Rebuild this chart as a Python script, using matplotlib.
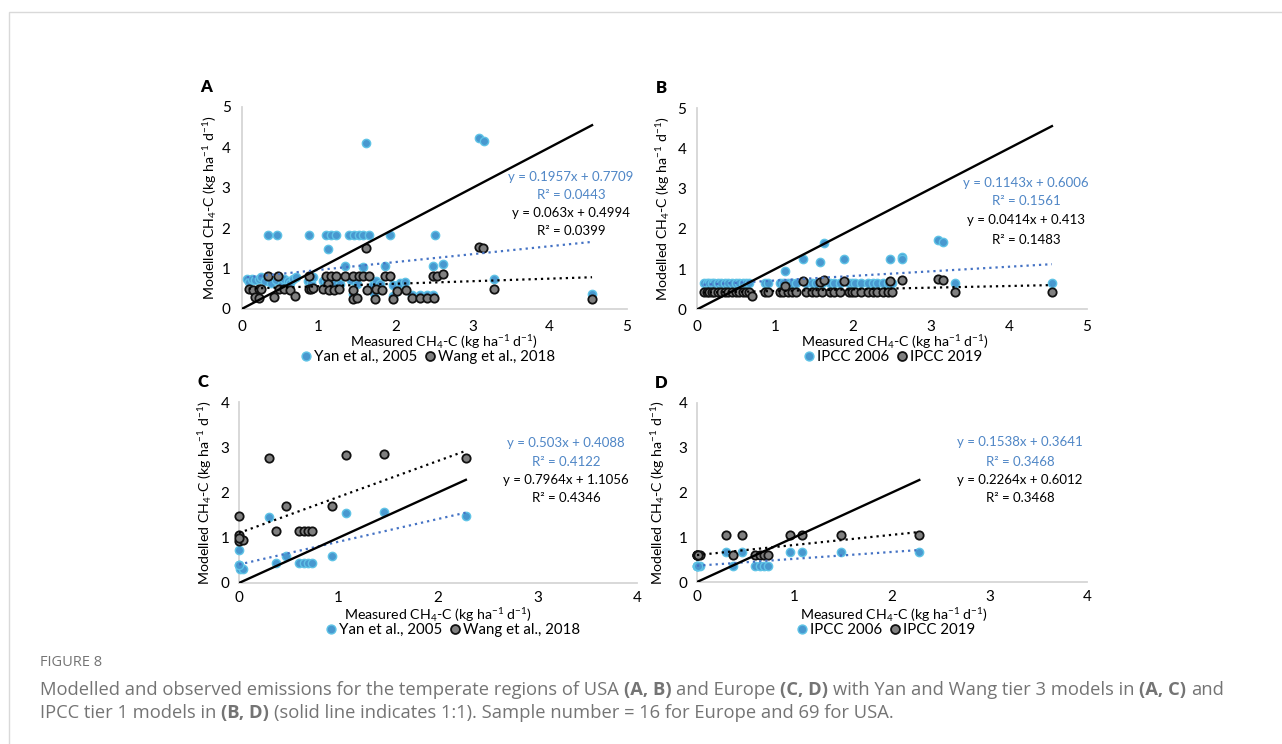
import matplotlib
matplotlib.use('Agg')
import matplotlib.pyplot as plt
from matplotlib.lines import Line2D
from matplotlib.patches import Rectangle
import numpy as np

plt.rcParams['font.family'] = ['Lato', 'DejaVu Sans']
plt.rcParams['mathtext.fontset'] = 'custom'
plt.rcParams['mathtext.rm'] = 'Lato'
plt.rcParams['mathtext.it'] = 'Lato:italic'
plt.rcParams['mathtext.bf'] = 'Lato:bold'

W, H = 1282, 744

# ---- data ----
# A: USA, Yan et al. 2005 (blue) and Wang et al. 2018 (grey)
a_yan_x = [1.62, 3.08, 3.15,
           0.34, 0.46, 0.88, 1.09, 1.16, 1.22, 1.39, 1.46, 1.52, 1.58, 1.65, 1.93, 2.51,
           1.12, 1.34, 1.58, 1.86, 2.48, 2.61, 3.28, 4.55,
           0.07, 0.10, 0.13, 0.17, 0.22, 0.25, 0.30, 0.38, 0.45, 0.52,
           0.55, 0.60, 0.63, 0.66, 0.70, 0.86, 0.90, 0.92, 1.05, 1.10,
           1.20, 1.28, 1.42, 1.50, 1.70, 1.75, 1.80, 1.97, 2.05, 2.12,
           2.21, 2.31, 2.40, 2.48, 1.45, 1.72, 1.97]
a_yan_y = [4.12, 4.24, 4.15,
           1.82, 1.82, 1.82, 1.82, 1.82, 1.82, 1.82, 1.82, 1.82, 1.82, 1.82, 1.82, 1.82,
           1.48, 1.07, 1.05, 1.07, 1.07, 1.11, 0.74, 0.36,
           0.75, 0.68, 0.75, 0.72, 0.75, 0.78, 0.70, 0.65, 0.72, 0.62,
           0.75, 0.70, 0.65, 0.75, 0.80, 0.70, 0.65, 0.78, 0.70, 0.70,
           0.62, 0.62, 0.72, 0.62, 0.60, 0.70, 0.62, 0.60, 0.65, 0.68,
           0.35, 0.35, 0.35, 0.35, 0.38, 0.40, 0.33]
a_wang_x = [1.62, 3.08, 3.14,
            0.34, 0.47, 0.88, 1.09, 1.16, 1.22, 1.34, 1.45, 1.52, 1.58,
            1.65, 1.86, 1.93, 2.48, 2.54, 2.61,
            1.12, 3.28, 4.55,
            0.09, 0.15, 0.22, 0.25, 0.48, 0.55, 0.63, 0.87, 0.90, 0.93,
            1.06, 1.13, 1.20, 1.26, 1.45, 1.63, 1.74, 1.82, 2.02, 2.13,
            0.17, 0.22, 0.42, 0.69, 1.45, 1.50, 1.73, 1.97, 2.21, 2.31, 2.40, 2.50]
a_wang_y = [1.50, 1.54, 1.50,
            0.82, 0.82, 0.82, 0.82, 0.82, 0.82, 0.82, 0.82, 0.82, 0.82,
            0.82, 0.82, 0.82, 0.82, 0.82, 0.86,
            0.63, 0.49, 0.25,
            0.50, 0.48, 0.50, 0.49, 0.49, 0.50, 0.48, 0.50, 0.49, 0.52,
            0.49, 0.48, 0.47, 0.49, 0.48, 0.47, 0.50, 0.47, 0.45, 0.47,
            0.30, 0.28, 0.30, 0.33, 0.25, 0.27, 0.25, 0.25, 0.27, 0.27, 0.27, 0.27]

# B: USA, IPCC 2006 (blue) and IPCC 2019 (grey)
b_06_x = [0.08, 0.12, 0.15, 0.19, 0.22, 0.26, 0.30, 0.36, 0.40, 0.45,
          0.50, 0.53, 0.58, 0.62, 0.66, 0.87, 0.91, 1.06, 1.10, 1.17,
          1.22, 1.26, 1.40, 1.47, 1.52, 1.60, 1.70, 1.75, 1.83, 1.95,
          1.98, 2.02, 2.10, 2.19, 2.25, 2.31, 2.38, 2.45, 2.50,
          1.13, 1.35, 1.57, 1.63, 1.88, 2.47, 2.63, 2.63, 3.09, 3.15, 3.31, 4.55]
b_06_y = [0.66, 0.66, 0.65, 0.66, 0.66, 0.66, 0.65, 0.66, 0.66, 0.66,
          0.66, 0.65, 0.66, 0.66, 0.66, 0.66, 0.66, 0.66, 0.65, 0.66,
          0.66, 0.66, 0.66, 0.66, 0.65, 0.66, 0.66, 0.66, 0.66, 0.65,
          0.66, 0.66, 0.66, 0.66, 0.66, 0.65, 0.66, 0.66, 0.66,
          0.96, 1.24, 1.17, 1.64, 1.24, 1.24, 1.31, 1.24, 1.71, 1.66, 0.65, 0.65]
b_19_x = [0.08, 0.12, 0.15, 0.19, 0.22, 0.26, 0.30, 0.36, 0.40, 0.45,
          0.50, 0.53, 0.58, 0.62, 0.66, 0.87, 0.91, 1.06, 1.10, 1.17,
          1.22, 1.26, 1.40, 1.47, 1.52, 1.60, 1.70, 1.75, 1.83, 1.95,
          1.98, 2.02, 2.10, 2.19, 2.25, 2.31, 2.38, 2.45, 2.50,
          1.13, 1.35, 1.57, 1.63, 1.88, 2.47, 2.63, 3.09, 3.15, 3.31, 4.55, 0.70]
b_19_y = [0.43, 0.43, 0.43, 0.43, 0.43, 0.43, 0.43, 0.43, 0.43, 0.43,
          0.43, 0.43, 0.43, 0.43, 0.43, 0.43, 0.43, 0.43, 0.43, 0.43,
          0.43, 0.43, 0.43, 0.43, 0.43, 0.43, 0.43, 0.43, 0.43, 0.43,
          0.43, 0.43, 0.43, 0.43, 0.43, 0.43, 0.43, 0.43, 0.43,
          0.59, 0.70, 0.68, 0.72, 0.70, 0.70, 0.73, 0.75, 0.72, 0.43, 0.43, 0.32]

# C: Europe, Yan et al. 2005 (blue) and Wang et al. 2018 (grey)
c_yan_x = [0.0, 0.0, 0.01, 0.04, 0.30, 0.37, 0.47, 0.60, 0.65, 0.69, 0.73, 0.93, 1.08, 1.46, 2.28, 0.0]
c_yan_y = [0.74, 0.40, 0.32, 0.31, 1.46, 0.45, 0.60, 0.45, 0.45, 0.45, 0.45, 0.60, 1.54, 1.57, 1.49, 0.40]
c_wang_x = [0.0, 0.0, 0.0, 0.04, 0.30, 0.37, 0.47, 0.60, 0.65, 0.69, 0.73, 0.93, 1.08, 1.46, 2.28, 0.0]
c_wang_y = [1.49, 1.07, 0.93, 0.95, 2.77, 1.16, 1.71, 1.16, 1.16, 1.16, 1.16, 1.71, 2.83, 2.86, 2.77, 1.00]

# D: Europe, IPCC 2006 (blue) and IPCC 2019 (grey)
d_06_x = [0.0, 0.03, 0.30, 0.37, 0.46, 0.59, 0.65, 0.69, 0.73, 0.95, 1.08, 1.48, 2.28, 0.0, 0.0, 0.01]
d_06_y = [0.36, 0.36, 0.68, 0.36, 0.68, 0.36, 0.36, 0.36, 0.36, 0.68, 0.68, 0.68, 0.68, 0.36, 0.36, 0.36]
d_19_x = [0.0, 0.03, 0.30, 0.37, 0.46, 0.59, 0.65, 0.69, 0.73, 0.95, 1.08, 1.48, 2.28, 0.0, 0.0, 0.01]
d_19_y = [0.60, 0.60, 1.05, 0.60, 1.05, 0.60, 0.60, 0.60, 0.60, 1.05, 1.05, 1.05, 1.05, 0.60, 0.60, 0.60]

# trendline (slope, intercept, R2) as printed on the chart
a_fit_blue, a_fit_grey = (0.1957, 0.7709, 0.0443), (0.063, 0.4994, 0.0399)
b_fit_blue, b_fit_grey = (0.1143, 0.6006, 0.1561), (0.0414, 0.413, 0.1483)
c_fit_blue, c_fit_grey = (0.503, 0.4088, 0.4122), (0.7964, 1.1056, 0.4346)
d_fit_blue, d_fit_grey = (0.1538, 0.3641, 0.3468), (0.2264, 0.6012, 0.3468)

yan_wang_labels = ['Yan et al., 2005', 'Wang et al., 2018']
ipcc_labels = ['IPCC 2006', 'IPCC 2019']

BLUE_FACE, BLUE_EDGE = '#4898cf', '#5fc3e6'
GREY_FACE, GREY_EDGE = '#808080', '#111111'
BLUE_LINE, BLUE_TEXT = '#4472c4', '#4f86c6'
SPINE = '#d6d6d6'
XLAB = 'Measured CH$_4$-C (kg ha$^{-1}$ d$^{-1}$)'
YLAB = 'Modelled CH$_4$-C (kg ha$^{-1}$ d$^{-1}$)'

fig = plt.figure(figsize=(W / 100, H / 100), dpi=100)


def fpos(x, y):
    return x / W, 1 - y / H


def draw_panel(letter, box, lim, blue, grey, fit_blue, fit_grey, labels,
               eq_x, eq_y, ylab_x, xlab_pos, leg_pos, xpad, ypad):
    x0, y_top, x1, y0 = box
    ax = fig.add_axes([x0 / W, 1 - y0 / H, (x1 - x0) / W, (y0 - y_top) / H])
    ax.scatter(blue[0], blue[1], s=36, facecolor=BLUE_FACE, edgecolor=BLUE_EDGE,
               linewidth=1.0, zorder=3, clip_on=False)
    ax.scatter(grey[0], grey[1], s=36, facecolor=GREY_FACE, edgecolor=GREY_EDGE,
               linewidth=1.3, zorder=4, clip_on=False)
    for (xs, ys), (m, c, r2), col in [(blue, fit_blue, BLUE_LINE), (grey, fit_grey, 'black')]:
        xx = np.array([min(xs), max(xs)])
        ax.plot(xx, m * xx + c, color=col, linestyle=(0, (1, 1.8)), linewidth=1.6, zorder=5)
    xmax = max(max(blue[0]), max(grey[0]))
    ax.plot([0, xmax], [0, xmax], color='black', linewidth=1.7, zorder=6)

    ax.set_xlim(0, lim)
    ax.set_ylim(0, lim)
    ax.set_xticks(range(lim + 1))
    ax.set_yticks(range(lim + 1))
    for side in ['top', 'right']:
        ax.spines[side].set_visible(False)
    for side in ['left', 'bottom']:
        ax.spines[side].set_color(SPINE)
        ax.spines[side].set_linewidth(1.3)
    ax.tick_params(axis='x', length=0, pad=xpad, labelsize=11)
    ax.tick_params(axis='y', length=0, pad=ypad, labelsize=11)
    ax.patch.set_alpha(0)

    # equations
    m, c, r2 = fit_blue
    fig.text(*fpos(eq_x, eq_y[0]), f'y = {m:g}x + {c:g}', color=BLUE_TEXT,
             ha='center', va='center', fontsize=9.5)
    fig.text(*fpos(eq_x, eq_y[1]), f'R² = {r2:g}', color=BLUE_TEXT,
             ha='center', va='center', fontsize=9.5)
    m, c, r2 = fit_grey
    fig.text(*fpos(eq_x, eq_y[2]), f'y = {m:g}x + {c:g}', color='black',
             ha='center', va='center', fontsize=9.5)
    fig.text(*fpos(eq_x, eq_y[3]), f'R² = {r2:g}', color='black',
             ha='center', va='center', fontsize=9.5)

    # panel letter and axis titles
    fig.text(*fpos(x0 - 36, y_top - 20), letter, fontsize=12, weight='heavy',
             ha='center', va='center')
    fig.text(*fpos(ylab_x, (y_top + y0) / 2), YLAB, rotation=90, fontsize=10.2,
             ha='center', va='center')
    fig.text(*fpos(*xlab_pos), XLAB, fontsize=10.2, ha='center', va='center')

    handles = [Line2D([], [], linestyle='none', marker='o', markersize=6.4,
                      markerfacecolor=BLUE_FACE, markeredgecolor=BLUE_EDGE),
               Line2D([], [], linestyle='none', marker='o', markersize=6.4,
                      markerfacecolor=GREY_FACE, markeredgecolor=GREY_EDGE,
                      markeredgewidth=1.3)]
    fig.legend(handles, labels, loc='center', bbox_to_anchor=fpos(*leg_pos),
               ncol=2, frameon=False, fontsize=10.8, handlelength=0.7,
               handletextpad=0.2, columnspacing=0.5, borderpad=0, borderaxespad=0)
    return ax


draw_panel('A', (241.7, 107, 626.7, 309), 5, (a_yan_x, a_yan_y), (a_wang_x, a_wang_y),
           a_fit_blue, a_fit_grey, yan_wang_labels,
           571, (177, 195, 213, 231), 210, (444, 342), (428, 357), 8, 8)
draw_panel('B', (697.3, 108, 1087, 309.3), 5, (b_06_x, b_06_y), (b_19_x, b_19_y),
           b_fit_blue, b_fit_grey, ipcc_labels,
           1026, (183, 201, 220, 240), 663, (895, 342), (893, 357), 8, 8)
draw_panel('C', (239, 402, 637, 583), 4, (c_yan_x, c_yan_y), (c_wang_x, c_wang_y),
           c_fit_blue, c_fit_grey, yan_wang_labels,
           566, (443, 462, 480, 498), 205, (438, 615), (453, 630), 6, 7)
draw_panel('D', (697, 403, 1087, 582), 4, (d_06_x, d_06_y), (d_19_x, d_19_y),
           d_fit_blue, d_fit_grey, ipcc_labels,
           1020, (442, 462, 480, 498), 658, (894, 615), (886, 630), 6, 7)

# outer frame
fig.patches.append(Rectangle(fpos(9, 760), (1300 - 9) / W, (760 - 12) / H,
                             transform=fig.transFigure, fill=False,
                             edgecolor='#d9d9d9', linewidth=1.0))

# caption
CAP = '#747474'
fig.text(*fpos(40, 662), 'FIGURE 8', fontsize=10.5, color=CAP, family='Open Sans',
         ha='left', va='center')
renderer = fig.canvas.get_renderer()


def rich_line(x, y, parts, size):
    probe = fig.text(0, 0, 'a a', fontsize=size, family='Open Sans')
    probe2 = fig.text(0, 0, 'aa', fontsize=size, family='Open Sans')
    space = probe.get_window_extent(renderer).width - probe2.get_window_extent(renderer).width
    probe.remove()
    probe2.remove()
    cur = x
    for i, (s, bold) in enumerate(parts):
        lead = s.startswith(' ')
        s = s.strip()
        if lead and i > 0:
            cur += space
        t = fig.text(cur / W, 1 - y / H, s, fontsize=size, color=CAP, family='Open Sans',
                     weight='bold' if bold else 'normal', ha='left', va='center')
        cur = t.get_window_extent(renderer).x1


line1 = [('Modelled and observed emissions for the temperate regions of USA', False),
         (' (A, B)', True), (' and Europe', False), (' (C, D)', True),
         (' with Yan and Wang tier 3 models in', False), (' (A, C)', True), (' and', False)]
line2 = [('IPCC tier 1 models in', False), (' (B, D)', True),
         (' (solid line indicates 1:1). Sample number = 16 for Europe and 69 for USA.', False)]
rich_line(40, 690, line1, 13.2)
rich_line(40, 713, line2, 13.2)

fig.savefig('out.png', dpi=100)
